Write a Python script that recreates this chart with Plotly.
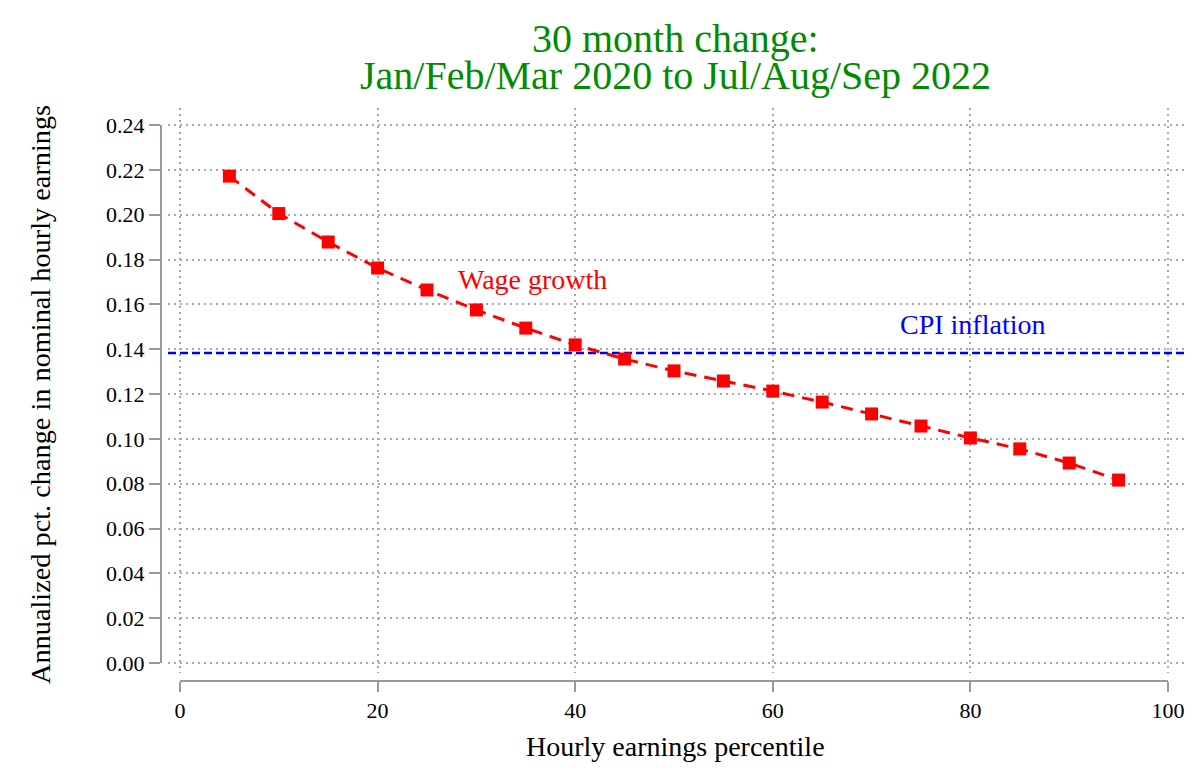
import plotly.graph_objects as go

# data
percentiles = [5, 10, 15, 20, 25, 30, 35, 40, 45, 50, 55, 60, 65, 70, 75, 80, 85, 90, 95]
wage_growth = [0.2172, 0.2005, 0.1878, 0.1762, 0.1664, 0.1575, 0.1494, 0.1419, 0.1356,
               0.1303, 0.1258, 0.1213, 0.1164, 0.1111, 0.1057, 0.1004, 0.0955, 0.0892, 0.0816]
cpi_inflation = 0.1383
x_ticks = [0, 20, 40, 60, 80, 100]
y_ticks = [0.00, 0.02, 0.04, 0.06, 0.08, 0.10, 0.12, 0.14, 0.16, 0.18, 0.20, 0.22, 0.24]
title_lines = ["30 month change:", "Jan/Feb/Mar 2020 to Jul/Aug/Sep 2022"]

# page has an 8px body margin, so the figure is 1184x760 starting at (8, 8)
OFF, W, H = 8, 1184, 760
FONT = "Liberation Serif"
AXIS_GRAY = "#999999"
GRID_GRAY = "#a8a8a8"

def px_x(p):
    return (p - OFF) / W

def px_y(p):
    return 1 - (p - OFF) / H

# plot area in screen pixels
L, R, T, B = 168, 1185, 108, 673
x_lo = 0 - (180 - L) / 9.88
x_hi = 100 + (R - 1168) / 9.88
ppu_y = (663 - 125) / 0.24
y_lo = 0 - (B - 663) / ppu_y
y_hi = 0.24 + (125 - T) / ppu_y

fig = go.Figure()

fig.add_trace(go.Scatter(
    x=[x_lo, x_hi], y=[cpi_inflation, cpi_inflation], mode="lines",
    line=dict(color="#0000ff", width=2.5, dash="8px,4px"), hoverinfo="skip", showlegend=False))

fig.add_trace(go.Scatter(
    x=percentiles, y=wage_growth, mode="lines+markers",
    line=dict(color="#ff0000", width=3, dash="12px,8px"),
    marker=dict(symbol="square", size=13, color="#ff0000"),
    showlegend=False))

# invisible helpers so the offset axes get drawn
fig.add_trace(go.Scatter(x=[0], y=[0], xaxis="x2", yaxis="y2", mode="markers",
                         marker=dict(opacity=0), hoverinfo="skip", showlegend=False))
fig.add_trace(go.Scatter(x=[0], y=[0], xaxis="x3", yaxis="y3", mode="markers",
                         marker=dict(opacity=0), hoverinfo="skip", showlegend=False))

grid = dict(showgrid=True, gridcolor=GRID_GRAY, gridwidth=1.5, griddash="2px,4px",
            zeroline=False, showline=False, showticklabels=False, ticks="")

fig.update_layout(
    margin=dict(l=0, r=0, t=0, b=0, autoexpand=False),
    plot_bgcolor="rgba(0,0,0,0)", paper_bgcolor="white",
    font=dict(family=FONT, color="black"),
    xaxis=dict(domain=[px_x(L), px_x(R)], range=[x_lo, x_hi], tickvals=x_ticks, **grid),
    yaxis=dict(domain=[px_y(B), px_y(T)], range=[y_lo, y_hi], tickvals=y_ticks, **grid),
    # left y axis, offset from the plot area
    xaxis2=dict(domain=[px_x(L), px_x(R)], range=[x_lo, x_hi], visible=False, anchor="y2"),
    yaxis2=dict(domain=[px_y(663), px_y(125)], range=[0, 0.24], anchor="free",
                position=px_x(161), tickvals=y_ticks, tickformat=".2f",
                showline=True, linecolor=AXIS_GRAY, linewidth=2,
                ticks="outside", ticklen=11, tickwidth=2, tickcolor=AXIS_GRAY,
                showgrid=False, zeroline=False, tickfont=dict(size=22, family=FONT)),
    # bottom x axis, offset from the plot area
    yaxis3=dict(domain=[px_y(B), px_y(T)], range=[y_lo, y_hi], visible=False, anchor="x3"),
    xaxis3=dict(domain=[px_x(180), px_x(1168)], range=[0, 100], anchor="free",
                position=px_y(681), tickvals=x_ticks,
                showline=True, linecolor=AXIS_GRAY, linewidth=2,
                ticks="outside", ticklen=10, tickwidth=2, tickcolor=AXIS_GRAY,
                showgrid=False, zeroline=False, tickfont=dict(size=22, family=FONT)),
)

for line, ypx in zip(title_lines, [38, 75]):
    fig.add_annotation(text=line, xref="paper", yref="paper", x=px_x(675), y=px_y(ypx),
                       xanchor="center", yanchor="middle",
                       showarrow=False, font=dict(size=40, family=FONT, color="#008b00"))
fig.add_annotation(text="Annualized pct. change in nominal hourly earnings",
                   xref="paper", yref="paper", x=px_x(40), y=px_y(395),
                   xanchor="center", yanchor="middle", textangle=-90,
                   showarrow=False, font=dict(size=28.3, family=FONT))
fig.add_annotation(text="Hourly earnings percentile",
                   xref="paper", yref="paper", x=px_x(675), y=px_y(746),
                   xanchor="center", yanchor="middle",
                   showarrow=False, font=dict(size=28, family=FONT))
fig.add_annotation(x=35.7, y=0.1713, text="Wage growth", showarrow=False,
                   xanchor="center", yanchor="middle",
                   font=dict(size=28, family=FONT, color="#ff0000"))
fig.add_annotation(x=80.2, y=0.1512, text="CPI inflation", showarrow=False,
                   xanchor="center", yanchor="middle",
                   font=dict(size=28, family=FONT, color="#0000ff"))

fig.write_html("out.html")
